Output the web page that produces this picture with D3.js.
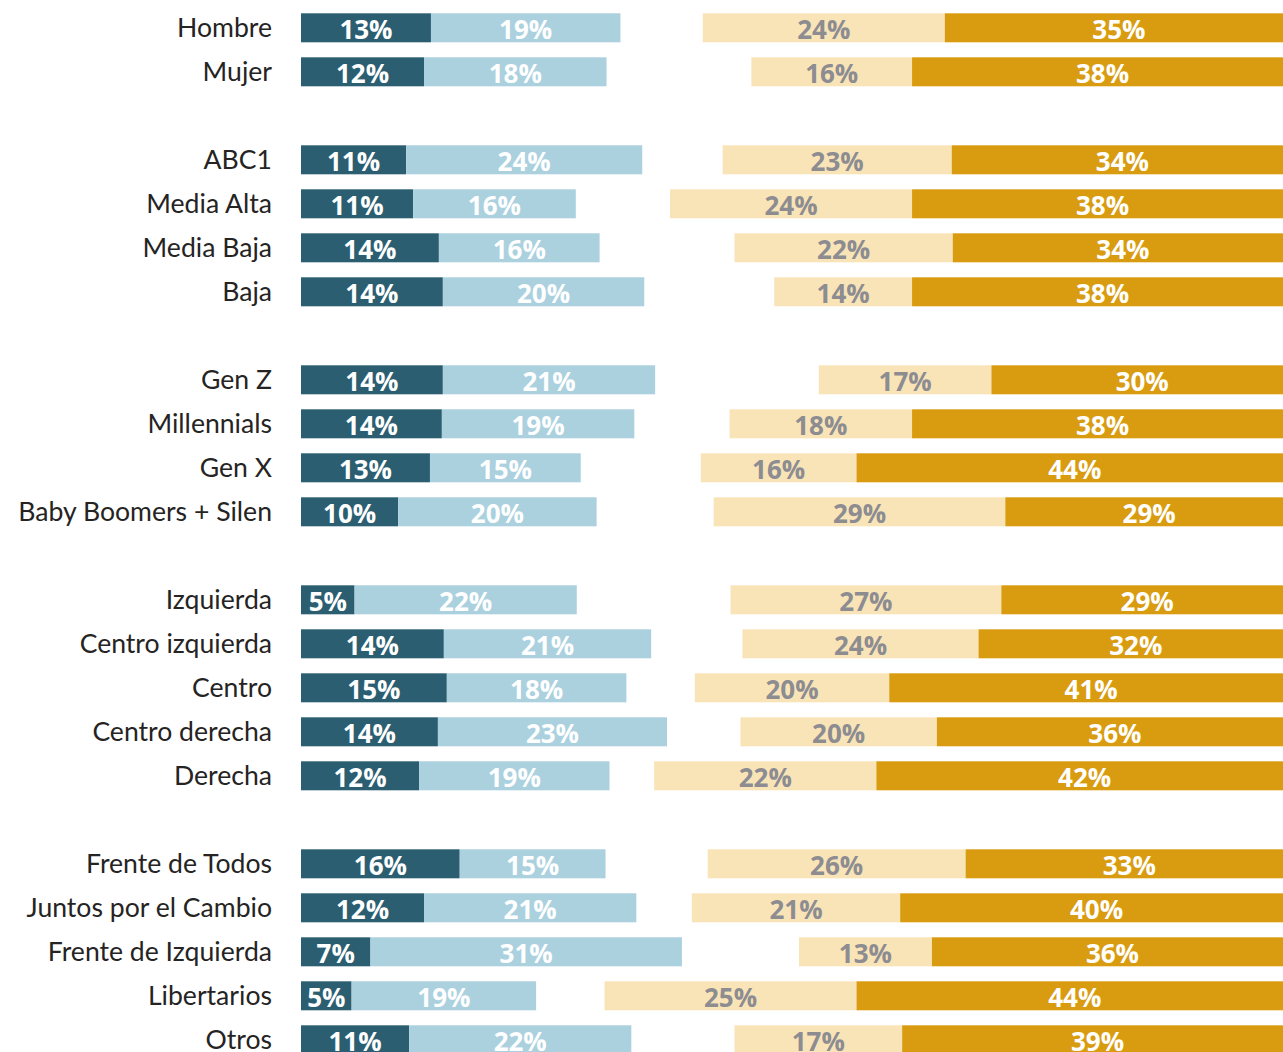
<!DOCTYPE html>
<html>
<head>
<meta charset="utf-8">
<script src="https://cdn.jsdelivr.net/npm/d3@7/dist/d3.min.js"></script>
<style>
    body { margin: 0; background: #ffffff; overflow: hidden; }
    .cat { font-family: Lato, "Open Sans", sans-serif; font-size: 26.6px; fill: #252423; }
    .val { font-family: "Open Sans", "Noto Sans", sans-serif; font-size: 26px; font-weight: 700; }
</style>
</head>
<body>
<script>

//categories, one list per group (a blank row is left between groups)
var groups = [
    ["Hombre", "Mujer"],
    ["ABC1", "Media Alta", "Media Baja", "Baja"],
    ["Gen Z", "Millennials", "Gen X", "Baby Boomers + Silen"],
    ["Izquierda", "Centro izquierda", "Centro", "Centro derecha", "Derecha"],
    ["Frente de Todos", "Juntos por el Cambio", "Frente de Izquierda", "Libertarios", "Otros"]
];

//series values in %, same order as the categories above
var darkVals  = [13.1, 12.4, 10.6, 11.3, 13.9, 14.3, 14.3, 14.2, 13.0, 9.8, 5.4, 14.4, 14.7, 13.8, 11.9, 16.0, 12.4, 7.0, 5.1, 10.9];
var lightVals = [19.1, 18.4, 23.8, 16.4, 16.2, 20.3, 21.4, 19.4, 15.2, 20.0, 22.4, 20.9, 18.1, 23.1, 19.2, 14.7, 21.4, 31.4, 18.6, 22.4];
var beigeVals = [24.4, 16.2, 23.1, 24.4, 22.0, 13.9, 17.4, 18.4, 15.7, 29.4, 27.3, 23.8, 19.6, 19.8, 22.4, 26.0, 21.0, 13.4, 25.4, 16.9];
var goldVals  = [35.1, 38.4, 34.4, 38.4, 34.3, 38.4, 30.4, 38.4, 44.0, 29.0, 29.4, 31.7, 40.7, 35.9, 42.0, 33.0, 39.6, 36.4, 44.0, 39.4];

var seriesKeys = ["dark", "light", "beige", "gold"];

//begin script when window loads
window.onload = drawChart;

function drawChart(){

    var width = 1283,
        height = 1052,
        labelRight = 272;

    var svg = d3.select("body")
        .append("svg")
        .attr("width", width)
        .attr("height", height);

    //x: 0% at the left bar start, 100% at the far right (right bars end there)
    var x = d3.scaleLinear()
        .domain([0, 100])
        .range([301, 1293]);

    //y slots, with a spacer slot between groups
    var slots = [];
    groups.forEach(function(g, i){
        if (i > 0) slots.push("__gap" + i);
        g.forEach(function(c){ slots.push(c); });
    });

    var step = 44;
    var y = d3.scaleBand()
        .domain(slots)
        .range([5.8, 5.8 + slots.length * step])
        .paddingInner(15 / step)
        .paddingOuter(15 / step / 2);

    var color = d3.scaleOrdinal()
        .domain(seriesKeys)
        .range(["#2b5e71", "#abd1df", "#f9e4b8", "#d99c10"]);

    var textColor = d3.scaleOrdinal()
        .domain(seriesKeys)
        .range(["#ffffff", "#ffffff", "#8c8c91", "#ffffff"]);

    var categories = d3.merge(groups);

    //left side stacks up from 0, right side stacks down from 100
    var rows = categories.map(function(cat, i){
        var d = darkVals[i], l = lightVals[i], b = beigeVals[i], g = goldVals[i];
        return {
            cat: cat,
            segs: [
                {key: "dark",  v: d, x0: 0,           x1: d},
                {key: "light", v: l, x0: d,           x1: d + l},
                {key: "beige", v: b, x0: 100 - g - b, x1: 100 - g},
                {key: "gold",  v: g, x0: 100 - g,     x1: 100}
            ]
        };
    });

    var row = svg.selectAll(".row")
        .data(rows)
        .enter()
        .append("g")
        .attr("class", "row")
        .attr("transform", function(d){ return "translate(0," + y(d.cat) + ")"; });

    row.selectAll("rect")
        .data(function(d){ return d.segs; })
        .enter()
        .append("rect")
        .attr("x", function(s){ return x(s.x0); })
        .attr("width", function(s){ return x(s.x1) - x(s.x0); })
        .attr("y", 0)
        .attr("height", y.bandwidth())
        .style("fill", function(s){ return color(s.key); });

    row.selectAll(".val")
        .data(function(d){ return d.segs; })
        .enter()
        .append("text")
        .attr("class", "val")
        .attr("x", function(s){ return (x(s.x0) + x(s.x1)) / 2; })
        .attr("y", y.bandwidth() - 3)
        .attr("text-anchor", "middle")
        .style("fill", function(s){ return textColor(s.key); })
        .text(function(s){ return Math.round(s.v) + "%"; });

    //category labels
    row.append("text")
        .attr("class", "cat")
        .attr("x", labelRight)
        .attr("y", 24)
        .attr("text-anchor", "end")
        .text(function(d){ return d.cat; });
};

</script>
</body>
</html>
